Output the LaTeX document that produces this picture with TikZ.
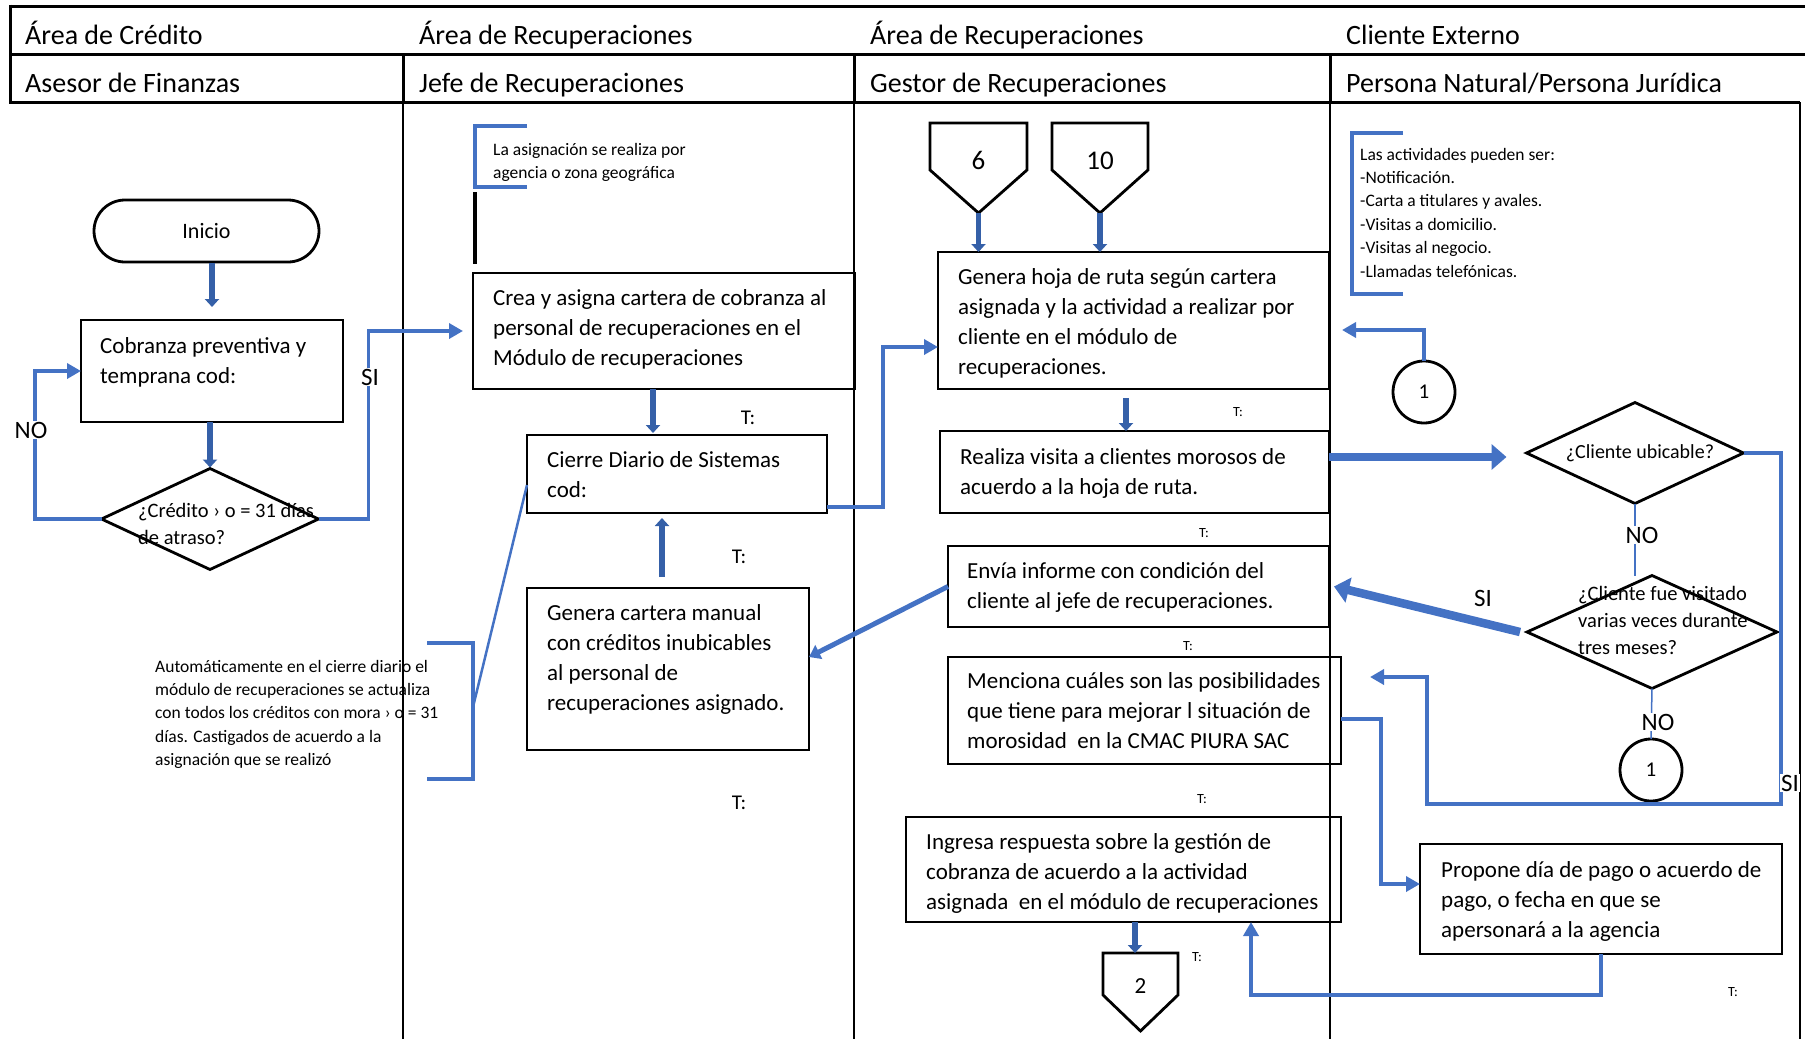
\documentclass[tikz,border=0pt]{standalone}
\usepackage{fontspec}
\setmainfont{Carlito}
\usetikzlibrary{arrows.meta,shapes.geometric}
\definecolor{bblue}{HTML}{4472C4}
\definecolor{bdark}{HTML}{3560A8}
\begin{document}
\begin{tikzpicture}[x=1pt,y=-1pt,
  box/.style={draw=black, line width=2.8pt, inner sep=0pt, outer sep=0pt, anchor=north west},
  txt/.style={anchor=north west, inner sep=0pt, align=left, font=\fontsize{23}{30}\selectfont},
  note/.style={anchor=north west, inner sep=0pt, align=left, font=\fontsize{17.5}{23.4}\selectfont},
  hdr/.style={anchor=base west, inner sep=0pt, font=\fontsize{28}{32}\selectfont},
  dtxt/.style={anchor=north west, inner sep=0pt, align=left, font=\fontsize{20.5}{27}\selectfont},
  dia/.style={draw=black, diamond, line width=2.8pt, inner sep=0pt, outer sep=0pt},
  circ/.style={draw=black, circle, line width=2.8pt, minimum size=62pt, inner sep=0pt, outer sep=0pt, font=\fontsize{21}{24}\selectfont},
  bl/.style={draw=bblue, line width=3.5pt, -{Triangle[width=15pt,length=14pt]}},
  thinbl/.style={draw=bblue, line width=1.5pt},
  darr/.style={draw=bdark, line width=5.5pt, -{Triangle[width=14pt,length=8pt]}},
  midarr/.style={draw=bblue, line width=5pt, -{Triangle[width=15pt,length=11pt]}},
  bigarr/.style={draw=bblue, line width=8.5pt, -{Triangle[width=25pt,length=15pt]}},
  brk/.style={draw=bblue, line width=4pt},
  lbl/.style={inner sep=1pt, font=\fontsize{25}{30}\selectfont},
  tl/.style={inner sep=0pt, font=\fontsize{21}{25}\selectfont},
  ts/.style={inner sep=0pt, font=\fontsize{14}{17}\selectfont},
  pent/.style={draw=black, line width=2.8pt, line join=miter},
]
\useasboundingbox (0,0) rectangle (1805,1039);

% ---------- header / lanes ----------
\draw[line width=3pt] (10,6) -- (1805,6);
\draw[line width=3pt] (10,54) -- (1805,54);
\draw[line width=3pt] (10,102) -- (1800,102);
\draw[line width=3pt] (10,4.5) -- (10,103.5);
\foreach \x in {403,854,1330} {
  \draw[line width=3pt] (\x,54) -- (\x,102);
  \draw[line width=1.3pt] (\x,102) -- (\x,1039);
}
\draw[line width=1.3pt] (1800,102) -- (1800,1039);
\node[hdr] (h1) at (25,44) {Área de Crédito};
\node[hdr] (h2) at (419,44) {Área de Recuperaciones};
\node[hdr] (h3) at (870,44) {Área de Recuperaciones};
\node[hdr] (h4) at (1346,44) {Cliente Externo};
\node[hdr] (r1) at (25,92) {Asesor de Finanzas};
\node[hdr] (r2) at (419,92) {Jefe de Recuperaciones};
\node[hdr] (r3) at (870,92) {Gestor de Recuperaciones};
\node[hdr] (r4) at (1346,92) {Persona Natural/Persona Jurídica};

% ---------- Asesor de Finanzas ----------
\node[draw=black, line width=2.8pt, rounded corners=31pt, minimum width=225pt, minimum height=62pt,
      inner sep=0pt, font=\fontsize{22}{26}\selectfont] (ini) at (206.5,231) {Inicio};
\node[box, minimum width=262pt, minimum height=102pt] (cob) at (81,320) {};
\node[txt] (cobT) at (100,332) {\strut Cobranza preventiva y\\temprana cod:};
\node[dia, minimum width=217pt, minimum height=101pt] (d1) at (210,519) {};
\node[dtxt] (d1T) at (138,498) {\strut ¿Crédito › o = 31 días\\de atraso?};

% ---------- Jefe de Recuperaciones ----------
\draw[brk] (527,126) -- (475,126) -- (475,187) -- (527,187);
\node[note] (n1) at (493,138.6) {\strut La asignación se realiza por\\agencia o zona geográfica};
\draw[line width=4pt] (475,192) -- (475,264);

\node[box, minimum width=382pt, minimum height=116pt] (crea) at (473,273) {};
\node[txt] (creaT) at (493,284) {\strut Crea y asigna cartera de cobranza al\\personal de recuperaciones en el\\Módulo de recuperaciones};
\node[box, minimum width=300pt, minimum height=78pt] (cie) at (527,435) {};
\node[txt] (cieT) at (547,446) {\strut Cierre Diario de Sistemas\\cod:};
\node[box, minimum width=282pt, minimum height=162pt] (gcar) at (527,588) {};
\node[txt] (gcarT) at (547,599) {\strut Genera cartera manual\\con créditos inubicables\\al personal de\\recuperaciones asignado.};

\draw[darr, shorten >=13pt] (ini.south -| cob.north) -- (cob.north);
\draw[darr, shorten >=1pt] (cob.south -| d1.north) -- (d1.north);
\draw[bl] (d1.west) -- ++(-66.5,0) |- (cob.west);
\draw[bl, shorten >=10pt] (d1.east) -- ++(50,0) |- (crea.west);
\node[lbl, fill=white] (noA) at (31,430) {NO};
\node[lbl, fill=white] (siA) at (370,377) {SI};

\coordinate (a1) at ([xshift=-11pt]crea.south);
\draw[darr, shorten >=2pt] (a1) -- (a1 |- cie.north);
\coordinate (a2) at ([xshift=-6pt]gcar.north);
\draw[darr, shorten <=11pt, shorten >=5pt] (a2) -- (a2 |- cie.south);

\node[tl] (t1) at (748,418) {T:};
\node[tl] (t2) at (739,557) {T:};
\node[tl] (t3) at (739,803) {T:};

% bottom-left annotation
\draw[brk] (427,643) -- (473,643) -- (473,779) -- (427,779);
\coordinate (brkB) at (473,707);
\node[note] (n2) at (155,655.6) {\strut Automáticamente en el cierre diario el\\módulo de recuperaciones se actualiza\\con todos los créditos con mora › o = 31\\días. Castigados de acuerdo a la\\asignación que se realizó};
\draw[bblue, line width=2.5pt] ([yshift=-11pt]cie.west) -- (brkB);

% ---------- Gestor de Recuperaciones ----------
\draw[pent] (930,123) -- (1027,123) -- (1027,170) -- (978.5,213) -- (930,170) -- cycle;
\coordinate (p6b) at (978.5,213);
\node[inner sep=0pt, anchor=base, font=\fontsize{27}{30}\selectfont] (p6) at (978.5,169) {6};
\draw[pent] (1052,123) -- (1148,123) -- (1148,170) -- (1100,213) -- (1052,170) -- cycle;
\coordinate (p10b) at (1100,213);
\node[inner sep=0pt, anchor=base, font=\fontsize{27}{30}\selectfont] (p10) at (1100,169) {10};

\node[box, minimum width=391pt, minimum height=137pt] (hoja) at (938,252) {};
\node[txt] (hojaT) at (958,263) {\strut Genera hoja de ruta según cartera\\asignada y la actividad a realizar por\\cliente en el módulo de\\recuperaciones.};
\node[box, minimum width=389pt, minimum height=82pt] (real) at (940,431) {};
\node[txt] (realT) at (960,443) {\strut Realiza visita a clientes morosos de\\acuerdo a la hoja de ruta.};
\node[box, minimum width=381pt, minimum height=81pt] (env) at (948,546) {};
\node[txt] (envT) at (967,557) {\strut Envía informe con condición del\\cliente al jefe de recuperaciones.};
\node[box, minimum width=393pt, minimum height=107pt] (men) at (948,657) {};
\node[txt] (menT) at (967,667) {\strut Menciona cuáles son las posibilidades\\que tiene para mejorar l situación de\\morosidad\ \ en la CMAC PIURA SAC};
\node[box, minimum width=435pt, minimum height=105pt] (ing) at (906,817) {};
\node[txt] (ingT) at (926,828) {\strut Ingresa respuesta sobre la gestión de\\cobranza de acuerdo a la actividad\\asignada\ \ en el módulo de recuperaciones};
\draw[pent] (1103,953) -- (1178,953) -- (1178,995) -- (1140.5,1031) -- (1103,995) -- cycle;
\coordinate (p2t) at (1140.5,953);
\node[inner sep=0pt, anchor=base, font=\fontsize{23}{26}\selectfont] (p2) at (1140.5,993) {2};

\draw[darr] (p6b) -- (p6b |- hoja.north);
\draw[darr] (p10b) -- (p10b |- hoja.north);
\coordinate (a3) at ([xshift=-7.5pt]hoja.south);
\draw[darr, shorten <=9pt] (a3) -- (a3 |- real.north);
\coordinate (a5) at ([xshift=11.5pt]ing.south);
\draw[darr] (a5) -- (a5 |- p2t);

\draw[bl] ([yshift=-33pt]cie.east) -- ++(56,0) |- ([yshift=-26.5pt]hoja.west);
\draw[midarr] (env.west) -- ([yshift=12pt]gcar.east);

\node[ts] (t4) at (1238,412) {T:};
\node[ts] (t5) at (1204,533) {T:};
\node[ts] (t6) at (1188,646) {T:};
\node[ts] (t7) at (1202,799) {T:};
\node[ts] (t8) at (1197,957) {T:};

% ---------- Cliente Externo ----------
\draw[brk] (1403,133) -- (1352,133) -- (1352,294) -- (1403,294);
\node[note] (n3) at (1360,143.6) {\strut Las actividades pueden ser:\\-Notificación.\\-Carta a titulares y avales.\\-Visitas a domicilio.\\-Visitas al negocio.\\-Llamadas telefónicas.};
\node[circ] (c1a) at (1424,392) {1};
\node[dia, minimum width=217pt, minimum height=101pt] (d2) at (1635,453) {};
\node[inner sep=0pt, anchor=base, font=\fontsize{20}{26}\selectfont] (d2T) at (1640,458) {¿Cliente ubicable?};
\node[dia, minimum width=250pt, minimum height=113pt] (d3) at (1652,632) {};
\node[dtxt] (d3T) at (1578,581) {\strut ¿Cliente fue visitado\\varias veces durante\\tres meses?};
\node[circ] (c1b) at (1651,770) {1};
\node[box, minimum width=362pt, minimum height=110pt] (prop) at (1420,844) {};
\node[txt] (propT) at (1441,856) {\strut Propone día de pago o acuerdo de\\pago, o fecha en que se\\apersonará a la agencia};
\node[ts] (t9) at (1733,992) {T:};

\coordinate (a4) at ([yshift=15pt]real.east);
\draw[bigarr, shorten >=20pt] (a4) -- (a4 -| d2.west);
\draw[bigarr] ([xshift=-7pt]d3.west) -- ([xshift=5pt]env.east);
\draw[bl] (c1a.north) -- ++(0,-31) -- ([xshift=13pt,yshift=-9.5pt]hoja.east);
\draw[bl] (d2.east) -- ++(37.5,0) -- ++(0,351) -- ++(-354,0) |- ([xshift=29pt,yshift=33.5pt]men.east);
\draw[thinbl] (d2.south) -- (d2.south |- d3.north);
\draw[thinbl] (d3.south) -- (c1b.north);
\draw[bl] ([yshift=-8.5pt]men.east) -- ++(40,0) |- ([yshift=15pt]prop.west);
\draw[bl] (prop.south) -- ++(0,41) -| ([xshift=127.5pt]ing.south);

\node[lbl, fill=white] (noB) at (1642,535) {NO};
\node[lbl, fill=white] (noC) at (1658,722) {NO};
\node[lbl] (siB) at (1483,598) {SI};
\node[lbl, fill=white] (siC) at (1790,783) {SI};
\end{tikzpicture}
\end{document}
